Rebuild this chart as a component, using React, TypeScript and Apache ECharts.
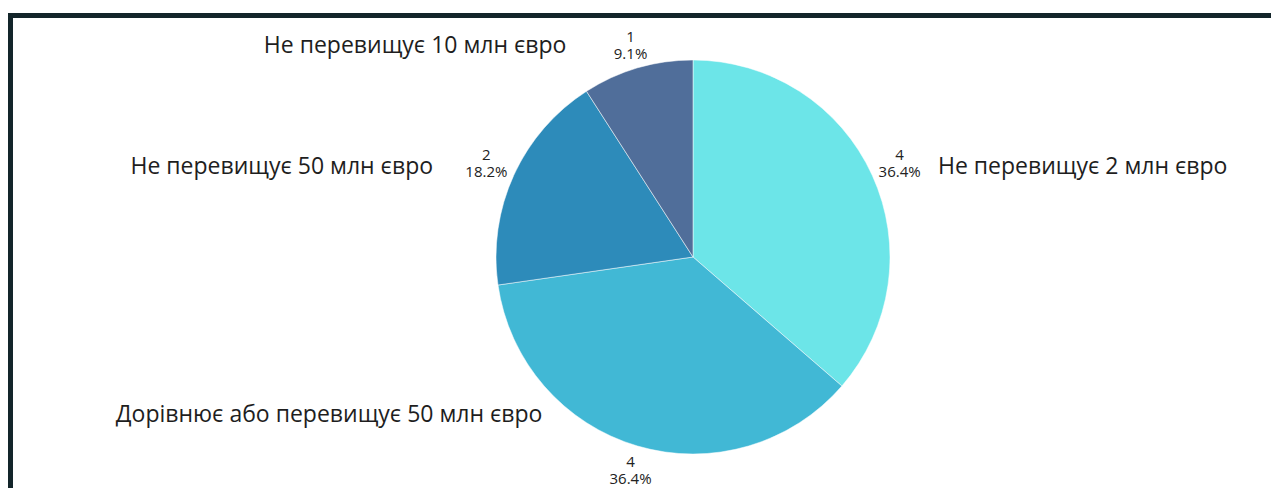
import React, { useEffect, useRef } from "react";
import * as echarts from "echarts";

const categories = [
  "Не перевищує 2 млн євро",
  "Дорівнює або перевищує 50 млн євро",
  "Не перевищує 50 млн євро",
  "Не перевищує 10 млн євро",
];
const values = [4, 4, 2, 1];
const colors = ["#6ce5e8", "#41b8d5", "#2d8bba", "#506e9a"];

export default function App() {
  const ref = useRef<HTMLDivElement>(null);
  useEffect(() => {
    const chart = echarts.init(ref.current!, undefined, { renderer: "svg" });
    const cx = 680;
    const cy = 239;
    const r = 197;
    const nameRadius = r + 25;
    const nameGap = [43, 88, 58, 64];
    const nameBottom = 395;
    const total = values.reduce((a, b) => a + b, 0);
    const dirs = values.map((v, i) => {
      const before = values.slice(0, i).reduce((a, b) => a + b, 0);
      const th = ((before + v / 2) / total) * 2 * Math.PI;
      return [Math.sin(th), -Math.cos(th)];
    });
    const data = categories.map((name, i) => ({
      name,
      value: values[i],
      itemStyle: { color: colors[i] },
    }));
    const ghost = categories.map((name, i) => ({
      name,
      value: values[i],
      itemStyle: { color: "rgba(0,0,0,0)" },
    }));
    chart.setOption({
      animation: false,
      textStyle: { fontFamily: "'Open Sans', sans-serif" },
      series: [
        {
          type: "pie",
          center: [cx, cy],
          radius: r,
          startAngle: 90,
          clockwise: true,
          data,
          itemStyle: { borderColor: "#ffffff", borderWidth: 0.5 },
          label: {
            position: "inside",
            formatter: (p: any) =>
              p.value + "\n" + ((p.value / total) * 100).toFixed(1) + "%",
            fontSize: 15,
            lineHeight: 17,
            color: "#222222",
            align: "center",
          },
          labelLine: { show: false },
          labelLayout: (p: any) => {
            const [dx, dy] = dirs[p.dataIndex];
            const w = p.labelRect.width;
            const h = p.labelRect.height;
            const t =
              7 +
              Math.min(
                w / 2 / Math.max(Math.abs(dx), 1e-6),
                h / 2 / Math.max(Math.abs(dy), 1e-6)
              );
            return {
              x: cx + dx * (r + t),
              y: cy + dy * (r + t),
              align: "center",
              verticalAlign: "middle",
            };
          },
        },
        {
          type: "pie",
          silent: true,
          center: [cx, cy],
          radius: r,
          startAngle: 90,
          clockwise: true,
          data: ghost,
          label: {
            position: "outside",
            formatter: "{b}",
            fontSize: 23,
            color: "#1e1e1e",
          },
          labelLine: { show: false },
          labelLayout: (p: any) => {
            const i = p.dataIndex;
            const [dx, dy] = dirs[i];
            const side = dx >= 0 ? 1 : -1;
            const rx = cx + dx * nameRadius;
            const ry = Math.min(cy + dy * nameRadius, nameBottom);
            return {
              x: rx + side * nameGap[i],
              y: ry,
              align: side > 0 ? "left" : "right",
              verticalAlign: "middle",
            };
          },
        },
      ],
    });
    return () => chart.dispose();
  }, []);
  return (
    <div
      style={{
        position: "fixed",
        left: 8,
        top: 13,
        right: 0,
        bottom: 0,
        borderTop: "5px solid #13252a",
        borderLeft: "5px solid #13252a",
        background: "#ffffff",
      }}
    >
      <div ref={ref} style={{ width: "100%", height: "100%" }} />
    </div>
  );
}
